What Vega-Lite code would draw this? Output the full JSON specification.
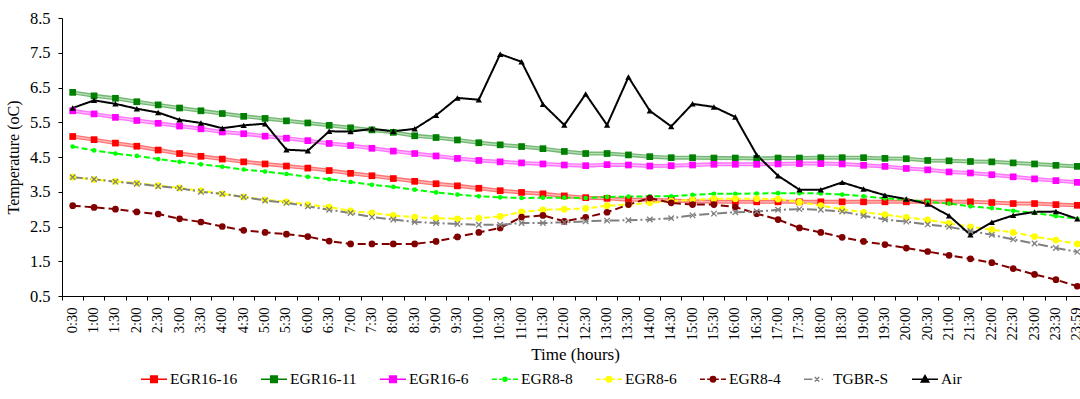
{
  "$schema": "https://vega.github.io/schema/vega-lite/v6.json",
  "width": 1026,
  "height": 278,
  "autosize": {"type": "none"},
  "padding": {"left": 62, "top": 18, "right": 0, "bottom": 103},
  "background": "white",
  "config": {
    "font": "Liberation Serif",
    "view": {"stroke": null},
    "axis": {"labelColor": "#000", "titleColor": "#000", "domainColor": "#000", "tickColor": "#000", "titleFontWeight": "normal", "grid": false, "domainWidth": 1, "tickWidth": 1},
    "legend": {"title": null, "orient": "none", "legendX": 78, "legendY": 347, "padding": 0, "direction": "horizontal", "symbolSize": 676, "symbolStrokeWidth": 1.6, "symbolOpacity": 1, "labelFont": "Liberation Serif", "labelFontSize": 15.5, "labelColor": "#000", "labelOffset": 2, "columnPadding": 19}
  },
  "data": {"values": [
{"t":"0:30","s":"EGR16-16","v":5.09},{"t":"1:00","s":"EGR16-16","v":5.00},{"t":"1:30","s":"EGR16-16","v":4.90},{"t":"2:00","s":"EGR16-16","v":4.81},{"t":"2:30","s":"EGR16-16","v":4.70},{"t":"3:00","s":"EGR16-16","v":4.60},{"t":"3:30","s":"EGR16-16","v":4.52},{"t":"4:00","s":"EGR16-16","v":4.44},{"t":"4:30","s":"EGR16-16","v":4.36},{"t":"5:00","s":"EGR16-16","v":4.30},{"t":"5:30","s":"EGR16-16","v":4.24},{"t":"6:00","s":"EGR16-16","v":4.18},{"t":"6:30","s":"EGR16-16","v":4.11},{"t":"7:00","s":"EGR16-16","v":4.03},{"t":"7:30","s":"EGR16-16","v":3.96},{"t":"8:00","s":"EGR16-16","v":3.88},{"t":"8:30","s":"EGR16-16","v":3.80},{"t":"9:00","s":"EGR16-16","v":3.73},{"t":"9:30","s":"EGR16-16","v":3.67},{"t":"10:00","s":"EGR16-16","v":3.60},{"t":"10:30","s":"EGR16-16","v":3.53},{"t":"11:00","s":"EGR16-16","v":3.48},{"t":"11:30","s":"EGR16-16","v":3.44},{"t":"12:00","s":"EGR16-16","v":3.38},{"t":"12:30","s":"EGR16-16","v":3.33},{"t":"13:00","s":"EGR16-16","v":3.31},{"t":"13:30","s":"EGR16-16","v":3.27},{"t":"14:00","s":"EGR16-16","v":3.27},{"t":"14:30","s":"EGR16-16","v":3.25},{"t":"15:00","s":"EGR16-16","v":3.23},{"t":"15:30","s":"EGR16-16","v":3.21},{"t":"16:00","s":"EGR16-16","v":3.21},{"t":"16:30","s":"EGR16-16","v":3.21},{"t":"17:00","s":"EGR16-16","v":3.21},{"t":"17:30","s":"EGR16-16","v":3.21},{"t":"18:00","s":"EGR16-16","v":3.21},{"t":"18:30","s":"EGR16-16","v":3.21},{"t":"19:00","s":"EGR16-16","v":3.21},{"t":"19:30","s":"EGR16-16","v":3.21},{"t":"20:00","s":"EGR16-16","v":3.21},{"t":"20:30","s":"EGR16-16","v":3.21},{"t":"21:00","s":"EGR16-16","v":3.21},{"t":"21:30","s":"EGR16-16","v":3.21},{"t":"22:00","s":"EGR16-16","v":3.19},{"t":"22:30","s":"EGR16-16","v":3.16},{"t":"23:00","s":"EGR16-16","v":3.16},{"t":"23:30","s":"EGR16-16","v":3.13},{"t":"23:59","s":"EGR16-16","v":3.11},
{"t":"0:30","s":"EGR16-11","v":6.36},{"t":"1:00","s":"EGR16-11","v":6.26},{"t":"1:30","s":"EGR16-11","v":6.19},{"t":"2:00","s":"EGR16-11","v":6.09},{"t":"2:30","s":"EGR16-11","v":6.00},{"t":"3:00","s":"EGR16-11","v":5.91},{"t":"3:30","s":"EGR16-11","v":5.83},{"t":"4:00","s":"EGR16-11","v":5.75},{"t":"4:30","s":"EGR16-11","v":5.67},{"t":"5:00","s":"EGR16-11","v":5.61},{"t":"5:30","s":"EGR16-11","v":5.54},{"t":"6:00","s":"EGR16-11","v":5.48},{"t":"6:30","s":"EGR16-11","v":5.41},{"t":"7:00","s":"EGR16-11","v":5.34},{"t":"7:30","s":"EGR16-11","v":5.28},{"t":"8:00","s":"EGR16-11","v":5.21},{"t":"8:30","s":"EGR16-11","v":5.11},{"t":"9:00","s":"EGR16-11","v":5.06},{"t":"9:30","s":"EGR16-11","v":4.99},{"t":"10:00","s":"EGR16-11","v":4.91},{"t":"10:30","s":"EGR16-11","v":4.85},{"t":"11:00","s":"EGR16-11","v":4.80},{"t":"11:30","s":"EGR16-11","v":4.74},{"t":"12:00","s":"EGR16-11","v":4.66},{"t":"12:30","s":"EGR16-11","v":4.60},{"t":"13:00","s":"EGR16-11","v":4.60},{"t":"13:30","s":"EGR16-11","v":4.56},{"t":"14:00","s":"EGR16-11","v":4.51},{"t":"14:30","s":"EGR16-11","v":4.48},{"t":"15:00","s":"EGR16-11","v":4.48},{"t":"15:30","s":"EGR16-11","v":4.47},{"t":"16:00","s":"EGR16-11","v":4.47},{"t":"16:30","s":"EGR16-11","v":4.46},{"t":"17:00","s":"EGR16-11","v":4.47},{"t":"17:30","s":"EGR16-11","v":4.47},{"t":"18:00","s":"EGR16-11","v":4.48},{"t":"18:30","s":"EGR16-11","v":4.48},{"t":"19:00","s":"EGR16-11","v":4.48},{"t":"19:30","s":"EGR16-11","v":4.46},{"t":"20:00","s":"EGR16-11","v":4.45},{"t":"20:30","s":"EGR16-11","v":4.40},{"t":"21:00","s":"EGR16-11","v":4.39},{"t":"21:30","s":"EGR16-11","v":4.37},{"t":"22:00","s":"EGR16-11","v":4.36},{"t":"22:30","s":"EGR16-11","v":4.33},{"t":"23:00","s":"EGR16-11","v":4.30},{"t":"23:30","s":"EGR16-11","v":4.26},{"t":"23:59","s":"EGR16-11","v":4.23},
{"t":"0:30","s":"EGR16-6","v":5.83},{"t":"1:00","s":"EGR16-6","v":5.74},{"t":"1:30","s":"EGR16-6","v":5.64},{"t":"2:00","s":"EGR16-6","v":5.55},{"t":"2:30","s":"EGR16-6","v":5.47},{"t":"3:00","s":"EGR16-6","v":5.39},{"t":"3:30","s":"EGR16-6","v":5.31},{"t":"4:00","s":"EGR16-6","v":5.22},{"t":"4:30","s":"EGR16-6","v":5.17},{"t":"5:00","s":"EGR16-6","v":5.10},{"t":"5:30","s":"EGR16-6","v":5.04},{"t":"6:00","s":"EGR16-6","v":4.97},{"t":"6:30","s":"EGR16-6","v":4.89},{"t":"7:00","s":"EGR16-6","v":4.83},{"t":"7:30","s":"EGR16-6","v":4.75},{"t":"8:00","s":"EGR16-6","v":4.67},{"t":"8:30","s":"EGR16-6","v":4.60},{"t":"9:00","s":"EGR16-6","v":4.53},{"t":"9:30","s":"EGR16-6","v":4.46},{"t":"10:00","s":"EGR16-6","v":4.40},{"t":"10:30","s":"EGR16-6","v":4.36},{"t":"11:00","s":"EGR16-6","v":4.33},{"t":"11:30","s":"EGR16-6","v":4.30},{"t":"12:00","s":"EGR16-6","v":4.27},{"t":"12:30","s":"EGR16-6","v":4.25},{"t":"13:00","s":"EGR16-6","v":4.28},{"t":"13:30","s":"EGR16-6","v":4.27},{"t":"14:00","s":"EGR16-6","v":4.24},{"t":"14:30","s":"EGR16-6","v":4.25},{"t":"15:00","s":"EGR16-6","v":4.27},{"t":"15:30","s":"EGR16-6","v":4.29},{"t":"16:00","s":"EGR16-6","v":4.29},{"t":"16:30","s":"EGR16-6","v":4.29},{"t":"17:00","s":"EGR16-6","v":4.30},{"t":"17:30","s":"EGR16-6","v":4.31},{"t":"18:00","s":"EGR16-6","v":4.31},{"t":"18:30","s":"EGR16-6","v":4.30},{"t":"19:00","s":"EGR16-6","v":4.26},{"t":"19:30","s":"EGR16-6","v":4.23},{"t":"20:00","s":"EGR16-6","v":4.17},{"t":"20:30","s":"EGR16-6","v":4.13},{"t":"21:00","s":"EGR16-6","v":4.07},{"t":"21:30","s":"EGR16-6","v":4.04},{"t":"22:00","s":"EGR16-6","v":3.99},{"t":"22:30","s":"EGR16-6","v":3.93},{"t":"23:00","s":"EGR16-6","v":3.87},{"t":"23:30","s":"EGR16-6","v":3.82},{"t":"23:59","s":"EGR16-6","v":3.77},
{"t":"0:30","s":"EGR8-8","v":4.80},{"t":"1:00","s":"EGR8-8","v":4.69},{"t":"1:30","s":"EGR8-8","v":4.60},{"t":"2:00","s":"EGR8-8","v":4.53},{"t":"2:30","s":"EGR8-8","v":4.44},{"t":"3:00","s":"EGR8-8","v":4.36},{"t":"3:30","s":"EGR8-8","v":4.29},{"t":"4:00","s":"EGR8-8","v":4.22},{"t":"4:30","s":"EGR8-8","v":4.14},{"t":"5:00","s":"EGR8-8","v":4.08},{"t":"5:30","s":"EGR8-8","v":4.01},{"t":"6:00","s":"EGR8-8","v":3.93},{"t":"6:30","s":"EGR8-8","v":3.86},{"t":"7:00","s":"EGR8-8","v":3.78},{"t":"7:30","s":"EGR8-8","v":3.70},{"t":"8:00","s":"EGR8-8","v":3.64},{"t":"8:30","s":"EGR8-8","v":3.56},{"t":"9:00","s":"EGR8-8","v":3.48},{"t":"9:30","s":"EGR8-8","v":3.42},{"t":"10:00","s":"EGR8-8","v":3.37},{"t":"10:30","s":"EGR8-8","v":3.34},{"t":"11:00","s":"EGR8-8","v":3.32},{"t":"11:30","s":"EGR8-8","v":3.33},{"t":"12:00","s":"EGR8-8","v":3.33},{"t":"12:30","s":"EGR8-8","v":3.32},{"t":"13:00","s":"EGR8-8","v":3.35},{"t":"13:30","s":"EGR8-8","v":3.36},{"t":"14:00","s":"EGR8-8","v":3.37},{"t":"14:30","s":"EGR8-8","v":3.37},{"t":"15:00","s":"EGR8-8","v":3.41},{"t":"15:30","s":"EGR8-8","v":3.44},{"t":"16:00","s":"EGR8-8","v":3.44},{"t":"16:30","s":"EGR8-8","v":3.45},{"t":"17:00","s":"EGR8-8","v":3.46},{"t":"17:30","s":"EGR8-8","v":3.46},{"t":"18:00","s":"EGR8-8","v":3.45},{"t":"18:30","s":"EGR8-8","v":3.42},{"t":"19:00","s":"EGR8-8","v":3.37},{"t":"19:30","s":"EGR8-8","v":3.31},{"t":"20:00","s":"EGR8-8","v":3.27},{"t":"20:30","s":"EGR8-8","v":3.21},{"t":"21:00","s":"EGR8-8","v":3.16},{"t":"21:30","s":"EGR8-8","v":3.08},{"t":"22:00","s":"EGR8-8","v":3.03},{"t":"22:30","s":"EGR8-8","v":2.95},{"t":"23:00","s":"EGR8-8","v":2.89},{"t":"23:30","s":"EGR8-8","v":2.80},{"t":"23:59","s":"EGR8-8","v":2.72},
{"t":"0:30","s":"EGR8-6","v":3.92},{"t":"1:00","s":"EGR8-6","v":3.85},{"t":"1:30","s":"EGR8-6","v":3.80},{"t":"2:00","s":"EGR8-6","v":3.75},{"t":"2:30","s":"EGR8-6","v":3.68},{"t":"3:00","s":"EGR8-6","v":3.61},{"t":"3:30","s":"EGR8-6","v":3.53},{"t":"4:00","s":"EGR8-6","v":3.44},{"t":"4:30","s":"EGR8-6","v":3.35},{"t":"5:00","s":"EGR8-6","v":3.27},{"t":"5:30","s":"EGR8-6","v":3.21},{"t":"6:00","s":"EGR8-6","v":3.13},{"t":"6:30","s":"EGR8-6","v":3.06},{"t":"7:00","s":"EGR8-6","v":2.95},{"t":"7:30","s":"EGR8-6","v":2.89},{"t":"8:00","s":"EGR8-6","v":2.82},{"t":"8:30","s":"EGR8-6","v":2.77},{"t":"9:00","s":"EGR8-6","v":2.74},{"t":"9:30","s":"EGR8-6","v":2.72},{"t":"10:00","s":"EGR8-6","v":2.74},{"t":"10:30","s":"EGR8-6","v":2.79},{"t":"11:00","s":"EGR8-6","v":2.92},{"t":"11:30","s":"EGR8-6","v":2.98},{"t":"12:00","s":"EGR8-6","v":3.00},{"t":"12:30","s":"EGR8-6","v":3.02},{"t":"13:00","s":"EGR8-6","v":3.10},{"t":"13:30","s":"EGR8-6","v":3.13},{"t":"14:00","s":"EGR8-6","v":3.18},{"t":"14:30","s":"EGR8-6","v":3.23},{"t":"15:00","s":"EGR8-6","v":3.27},{"t":"15:30","s":"EGR8-6","v":3.30},{"t":"16:00","s":"EGR8-6","v":3.30},{"t":"16:30","s":"EGR8-6","v":3.30},{"t":"17:00","s":"EGR8-6","v":3.29},{"t":"17:30","s":"EGR8-6","v":3.20},{"t":"18:00","s":"EGR8-6","v":3.10},{"t":"18:30","s":"EGR8-6","v":3.00},{"t":"19:00","s":"EGR8-6","v":2.91},{"t":"19:30","s":"EGR8-6","v":2.84},{"t":"20:00","s":"EGR8-6","v":2.76},{"t":"20:30","s":"EGR8-6","v":2.69},{"t":"21:00","s":"EGR8-6","v":2.59},{"t":"21:30","s":"EGR8-6","v":2.49},{"t":"22:00","s":"EGR8-6","v":2.41},{"t":"22:30","s":"EGR8-6","v":2.33},{"t":"23:00","s":"EGR8-6","v":2.21},{"t":"23:30","s":"EGR8-6","v":2.11},{"t":"23:59","s":"EGR8-6","v":2.00},
{"t":"0:30","s":"EGR8-4","v":3.10},{"t":"1:00","s":"EGR8-4","v":3.05},{"t":"1:30","s":"EGR8-4","v":3.00},{"t":"2:00","s":"EGR8-4","v":2.92},{"t":"2:30","s":"EGR8-4","v":2.86},{"t":"3:00","s":"EGR8-4","v":2.72},{"t":"3:30","s":"EGR8-4","v":2.63},{"t":"4:00","s":"EGR8-4","v":2.50},{"t":"4:30","s":"EGR8-4","v":2.39},{"t":"5:00","s":"EGR8-4","v":2.33},{"t":"5:30","s":"EGR8-4","v":2.28},{"t":"6:00","s":"EGR8-4","v":2.21},{"t":"6:30","s":"EGR8-4","v":2.08},{"t":"7:00","s":"EGR8-4","v":2.00},{"t":"7:30","s":"EGR8-4","v":2.00},{"t":"8:00","s":"EGR8-4","v":2.00},{"t":"8:30","s":"EGR8-4","v":2.00},{"t":"9:00","s":"EGR8-4","v":2.07},{"t":"9:30","s":"EGR8-4","v":2.20},{"t":"10:00","s":"EGR8-4","v":2.33},{"t":"10:30","s":"EGR8-4","v":2.46},{"t":"11:00","s":"EGR8-4","v":2.77},{"t":"11:30","s":"EGR8-4","v":2.82},{"t":"12:00","s":"EGR8-4","v":2.65},{"t":"12:30","s":"EGR8-4","v":2.76},{"t":"13:00","s":"EGR8-4","v":2.91},{"t":"13:30","s":"EGR8-4","v":3.13},{"t":"14:00","s":"EGR8-4","v":3.32},{"t":"14:30","s":"EGR8-4","v":3.18},{"t":"15:00","s":"EGR8-4","v":3.13},{"t":"15:30","s":"EGR8-4","v":3.13},{"t":"16:00","s":"EGR8-4","v":3.06},{"t":"16:30","s":"EGR8-4","v":2.87},{"t":"17:00","s":"EGR8-4","v":2.70},{"t":"17:30","s":"EGR8-4","v":2.46},{"t":"18:00","s":"EGR8-4","v":2.33},{"t":"18:30","s":"EGR8-4","v":2.19},{"t":"19:00","s":"EGR8-4","v":2.07},{"t":"19:30","s":"EGR8-4","v":1.98},{"t":"20:00","s":"EGR8-4","v":1.88},{"t":"20:30","s":"EGR8-4","v":1.78},{"t":"21:00","s":"EGR8-4","v":1.67},{"t":"21:30","s":"EGR8-4","v":1.57},{"t":"22:00","s":"EGR8-4","v":1.46},{"t":"22:30","s":"EGR8-4","v":1.29},{"t":"23:00","s":"EGR8-4","v":1.12},{"t":"23:30","s":"EGR8-4","v":0.97},{"t":"23:59","s":"EGR8-4","v":0.78},
{"t":"0:30","s":"TGBR-S","v":3.92},{"t":"1:00","s":"TGBR-S","v":3.86},{"t":"1:30","s":"TGBR-S","v":3.79},{"t":"2:00","s":"TGBR-S","v":3.73},{"t":"2:30","s":"TGBR-S","v":3.66},{"t":"3:00","s":"TGBR-S","v":3.60},{"t":"3:30","s":"TGBR-S","v":3.50},{"t":"4:00","s":"TGBR-S","v":3.44},{"t":"4:30","s":"TGBR-S","v":3.35},{"t":"5:00","s":"TGBR-S","v":3.25},{"t":"5:30","s":"TGBR-S","v":3.18},{"t":"6:00","s":"TGBR-S","v":3.08},{"t":"6:30","s":"TGBR-S","v":2.98},{"t":"7:00","s":"TGBR-S","v":2.89},{"t":"7:30","s":"TGBR-S","v":2.77},{"t":"8:00","s":"TGBR-S","v":2.70},{"t":"8:30","s":"TGBR-S","v":2.63},{"t":"9:00","s":"TGBR-S","v":2.60},{"t":"9:30","s":"TGBR-S","v":2.57},{"t":"10:00","s":"TGBR-S","v":2.55},{"t":"10:30","s":"TGBR-S","v":2.55},{"t":"11:00","s":"TGBR-S","v":2.60},{"t":"11:30","s":"TGBR-S","v":2.60},{"t":"12:00","s":"TGBR-S","v":2.62},{"t":"12:30","s":"TGBR-S","v":2.65},{"t":"13:00","s":"TGBR-S","v":2.67},{"t":"13:30","s":"TGBR-S","v":2.68},{"t":"14:00","s":"TGBR-S","v":2.70},{"t":"14:30","s":"TGBR-S","v":2.74},{"t":"15:00","s":"TGBR-S","v":2.82},{"t":"15:30","s":"TGBR-S","v":2.87},{"t":"16:00","s":"TGBR-S","v":2.91},{"t":"16:30","s":"TGBR-S","v":2.93},{"t":"17:00","s":"TGBR-S","v":2.98},{"t":"17:30","s":"TGBR-S","v":3.00},{"t":"18:00","s":"TGBR-S","v":2.98},{"t":"18:30","s":"TGBR-S","v":2.93},{"t":"19:00","s":"TGBR-S","v":2.81},{"t":"19:30","s":"TGBR-S","v":2.70},{"t":"20:00","s":"TGBR-S","v":2.64},{"t":"20:30","s":"TGBR-S","v":2.56},{"t":"21:00","s":"TGBR-S","v":2.49},{"t":"21:30","s":"TGBR-S","v":2.37},{"t":"22:00","s":"TGBR-S","v":2.26},{"t":"22:30","s":"TGBR-S","v":2.13},{"t":"23:00","s":"TGBR-S","v":2.01},{"t":"23:30","s":"TGBR-S","v":1.88},{"t":"23:59","s":"TGBR-S","v":1.77},
{"t":"0:30","s":"Air","v":5.91},{"t":"1:00","s":"Air","v":6.13},{"t":"1:30","s":"Air","v":6.03},{"t":"2:00","s":"Air","v":5.89},{"t":"2:30","s":"Air","v":5.78},{"t":"3:00","s":"Air","v":5.57},{"t":"3:30","s":"Air","v":5.48},{"t":"4:00","s":"Air","v":5.33},{"t":"4:30","s":"Air","v":5.41},{"t":"5:00","s":"Air","v":5.46},{"t":"5:30","s":"Air","v":4.71},{"t":"6:00","s":"Air","v":4.68},{"t":"6:30","s":"Air","v":5.24},{"t":"7:00","s":"Air","v":5.23},{"t":"7:30","s":"Air","v":5.31},{"t":"8:00","s":"Air","v":5.24},{"t":"8:30","s":"Air","v":5.31},{"t":"9:00","s":"Air","v":5.70},{"t":"9:30","s":"Air","v":6.20},{"t":"10:00","s":"Air","v":6.15},{"t":"10:30","s":"Air","v":7.46},{"t":"11:00","s":"Air","v":7.24},{"t":"11:30","s":"Air","v":6.02},{"t":"12:00","s":"Air","v":5.42},{"t":"12:30","s":"Air","v":6.31},{"t":"13:00","s":"Air","v":5.42},{"t":"13:30","s":"Air","v":6.80},{"t":"14:00","s":"Air","v":5.83},{"t":"14:30","s":"Air","v":5.38},{"t":"15:00","s":"Air","v":6.03},{"t":"15:30","s":"Air","v":5.94},{"t":"16:00","s":"Air","v":5.65},{"t":"16:30","s":"Air","v":4.56},{"t":"17:00","s":"Air","v":3.96},{"t":"17:30","s":"Air","v":3.56},{"t":"18:00","s":"Air","v":3.56},{"t":"18:30","s":"Air","v":3.77},{"t":"19:00","s":"Air","v":3.58},{"t":"19:30","s":"Air","v":3.40},{"t":"20:00","s":"Air","v":3.29},{"t":"20:30","s":"Air","v":3.15},{"t":"21:00","s":"Air","v":2.81},{"t":"21:30","s":"Air","v":2.26},{"t":"22:00","s":"Air","v":2.62},{"t":"22:30","s":"Air","v":2.82},{"t":"23:00","s":"Air","v":2.92},{"t":"23:30","s":"Air","v":2.93},{"t":"23:59","s":"Air","v":2.72}
  ]},
  "encoding": {
    "x": {"field": "t", "type": "nominal", "sort": null, "scale": {"type": "band", "paddingInner": 0, "paddingOuter": 0},
      "axis": {"title": "Time (hours)", "labelAngle": -90, "bandPosition": 0, "tickSize": 4, "labelPadding": 7, "titlePadding": 6, "labelOverlap": false,
        "labelFont": "Liberation Serif", "labelFontSize": 14.5, "titleFont": "Liberation Serif", "titleFontSize": 17}},
    "y": {"field": "v", "type": "quantitative", "scale": {"domain": [0.5, 8.5], "nice": false, "zero": false},
      "axis": {"title": "Temperature (oC)", "values": [0.5, 1.5, 2.5, 3.5, 4.5, 5.5, 6.5, 7.5, 8.5], "format": ".1f", "tickSize": 4, "labelPadding": 8, "titlePadding": 8,
        "labelFont": "Liberation Serif", "labelFontSize": 16.5, "titleFont": "Liberation Serif", "titleFontSize": 16}},
    "color": {"field": "s", "type": "nominal",
      "legend": {"orient": "none", "legendX": 78, "legendY": 347, "labelFont": "Liberation Serif", "labelFontSize": 15.5, "columnPadding": 19, "direction": "horizontal", "title": null},
      "scale": {"domain": ["EGR16-16", "EGR16-11", "EGR16-6", "EGR8-8", "EGR8-6", "EGR8-4", "TGBR-S", "Air"],
        "range": ["#FF0000", "#008000", "#FF00FF", "#00FF00", "#FFFF00", "#800000", "#808080", "#000000"]}}
  },
  "layer": [
    {"transform": [{"filter": "false"}], "mark": {"type": "point", "filled": true},
      "encoding": {
        "stroke": {"field": "s", "type": "nominal",
          "legend": {"orient": "none", "legendX": 78, "legendY": 347, "labelFont": "Liberation Serif", "labelFontSize": 15.5, "columnPadding": 19, "direction": "horizontal", "title": null},
          "scale": {"domain": ["EGR16-16", "EGR16-11", "EGR16-6", "EGR8-8", "EGR8-6", "EGR8-4", "TGBR-S", "Air"],
            "range": ["#FF0000", "#008000", "#FF00FF", "#00FF00", "#FFFF00", "#800000", "#808080", "#000000"]}},
        "shape": {"field": "s", "type": "nominal",
          "legend": {"orient": "none", "legendX": 78, "legendY": 347, "labelFont": "Liberation Serif", "labelFontSize": 15.5, "columnPadding": 19, "direction": "horizontal", "title": null},
          "scale": {"domain": ["EGR16-16", "EGR16-11", "EGR16-6", "EGR8-8", "EGR8-6", "EGR8-4", "TGBR-S", "Air"],
            "range": ["M-1,0H1M-0.25,-0.25H0.25V0.25H-0.25Z", "M-1,0H1M-0.25,-0.25H0.25V0.25H-0.25Z", "M-1,0H1M-0.25,-0.25H0.25V0.25H-0.25Z",
              "M-1,0H-0.62M-0.45,0H-0.25M0.25,0H0.45M0.62,0H1M0.15,0A0.15,0.15 0 1,1 -0.15,0A0.15,0.15 0 1,1 0.15,0Z",
              "M-1,0H-0.62M-0.45,0H-0.25M0.25,0H0.45M0.62,0H1M0.2,0A0.2,0.2 0 1,1 -0.2,0A0.2,0.2 0 1,1 0.2,0Z",
              "M-1,0H-0.62M-0.45,0H-0.25M0.25,0H0.45M0.62,0H1M0.2,0A0.2,0.2 0 1,1 -0.2,0A0.2,0.2 0 1,1 0.2,0Z",
              "M-1,0H-0.35M-0.17,-0.17L0.17,0.17M-0.17,0.17L0.17,-0.17M0.35,0H0.45",
              "M-1,0H1M0,-0.28L0.28,0.2L-0.28,0.2Z"]}}
      }},
    {"transform": [{"filter": "indexof(datum.s, 'EGR16') === 0"}], "mark": {"type": "line", "strokeWidth": 4, "opacity": 0.55}},
    {"transform": [{"filter": "indexof(datum.s, 'EGR16') === 0"}], "mark": {"type": "line", "strokeWidth": 1.3, "opacity": 0.5}, "encoding": {"color": {"value": "white"}, "detail": {"field": "s", "type": "nominal"}}},
    {"transform": [{"filter": "indexof(datum.s, 'EGR16') !== 0"}], "mark": {"type": "line", "strokeWidth": 2},
      "encoding": {"strokeDash": {"field": "s", "type": "nominal", "legend": null,
        "scale": {"domain": ["EGR8-8", "EGR8-6", "EGR8-4", "TGBR-S", "Air"], "range": [[6, 3], [6, 3], [8, 4], [10, 3, 2, 3], [1, 0]]}}}},
    {"transform": [{"filter": "indexof(datum.s, 'EGR16') === 0"}], "mark": {"type": "point", "shape": "square", "filled": true, "size": 45, "opacity": 1}},
    {"transform": [{"filter": "datum.s === 'EGR8-8'"}], "mark": {"type": "point", "shape": "circle", "filled": true, "size": 22, "opacity": 1}},
    {"transform": [{"filter": "datum.s === 'EGR8-6' || datum.s === 'EGR8-4'"}], "mark": {"type": "point", "shape": "circle", "filled": true, "size": 45, "opacity": 1}},
    {"transform": [{"filter": "datum.s === 'TGBR-S'"}], "mark": {"type": "point", "shape": "M-1,-1L1,1M-1,1L1,-1", "filled": false, "strokeWidth": 1.3, "size": 30, "opacity": 1}},
    {"transform": [{"filter": "datum.s === 'Air'"}], "mark": {"type": "point", "shape": "triangle-up", "filled": true, "size": 40, "opacity": 1}}
  ]
}
